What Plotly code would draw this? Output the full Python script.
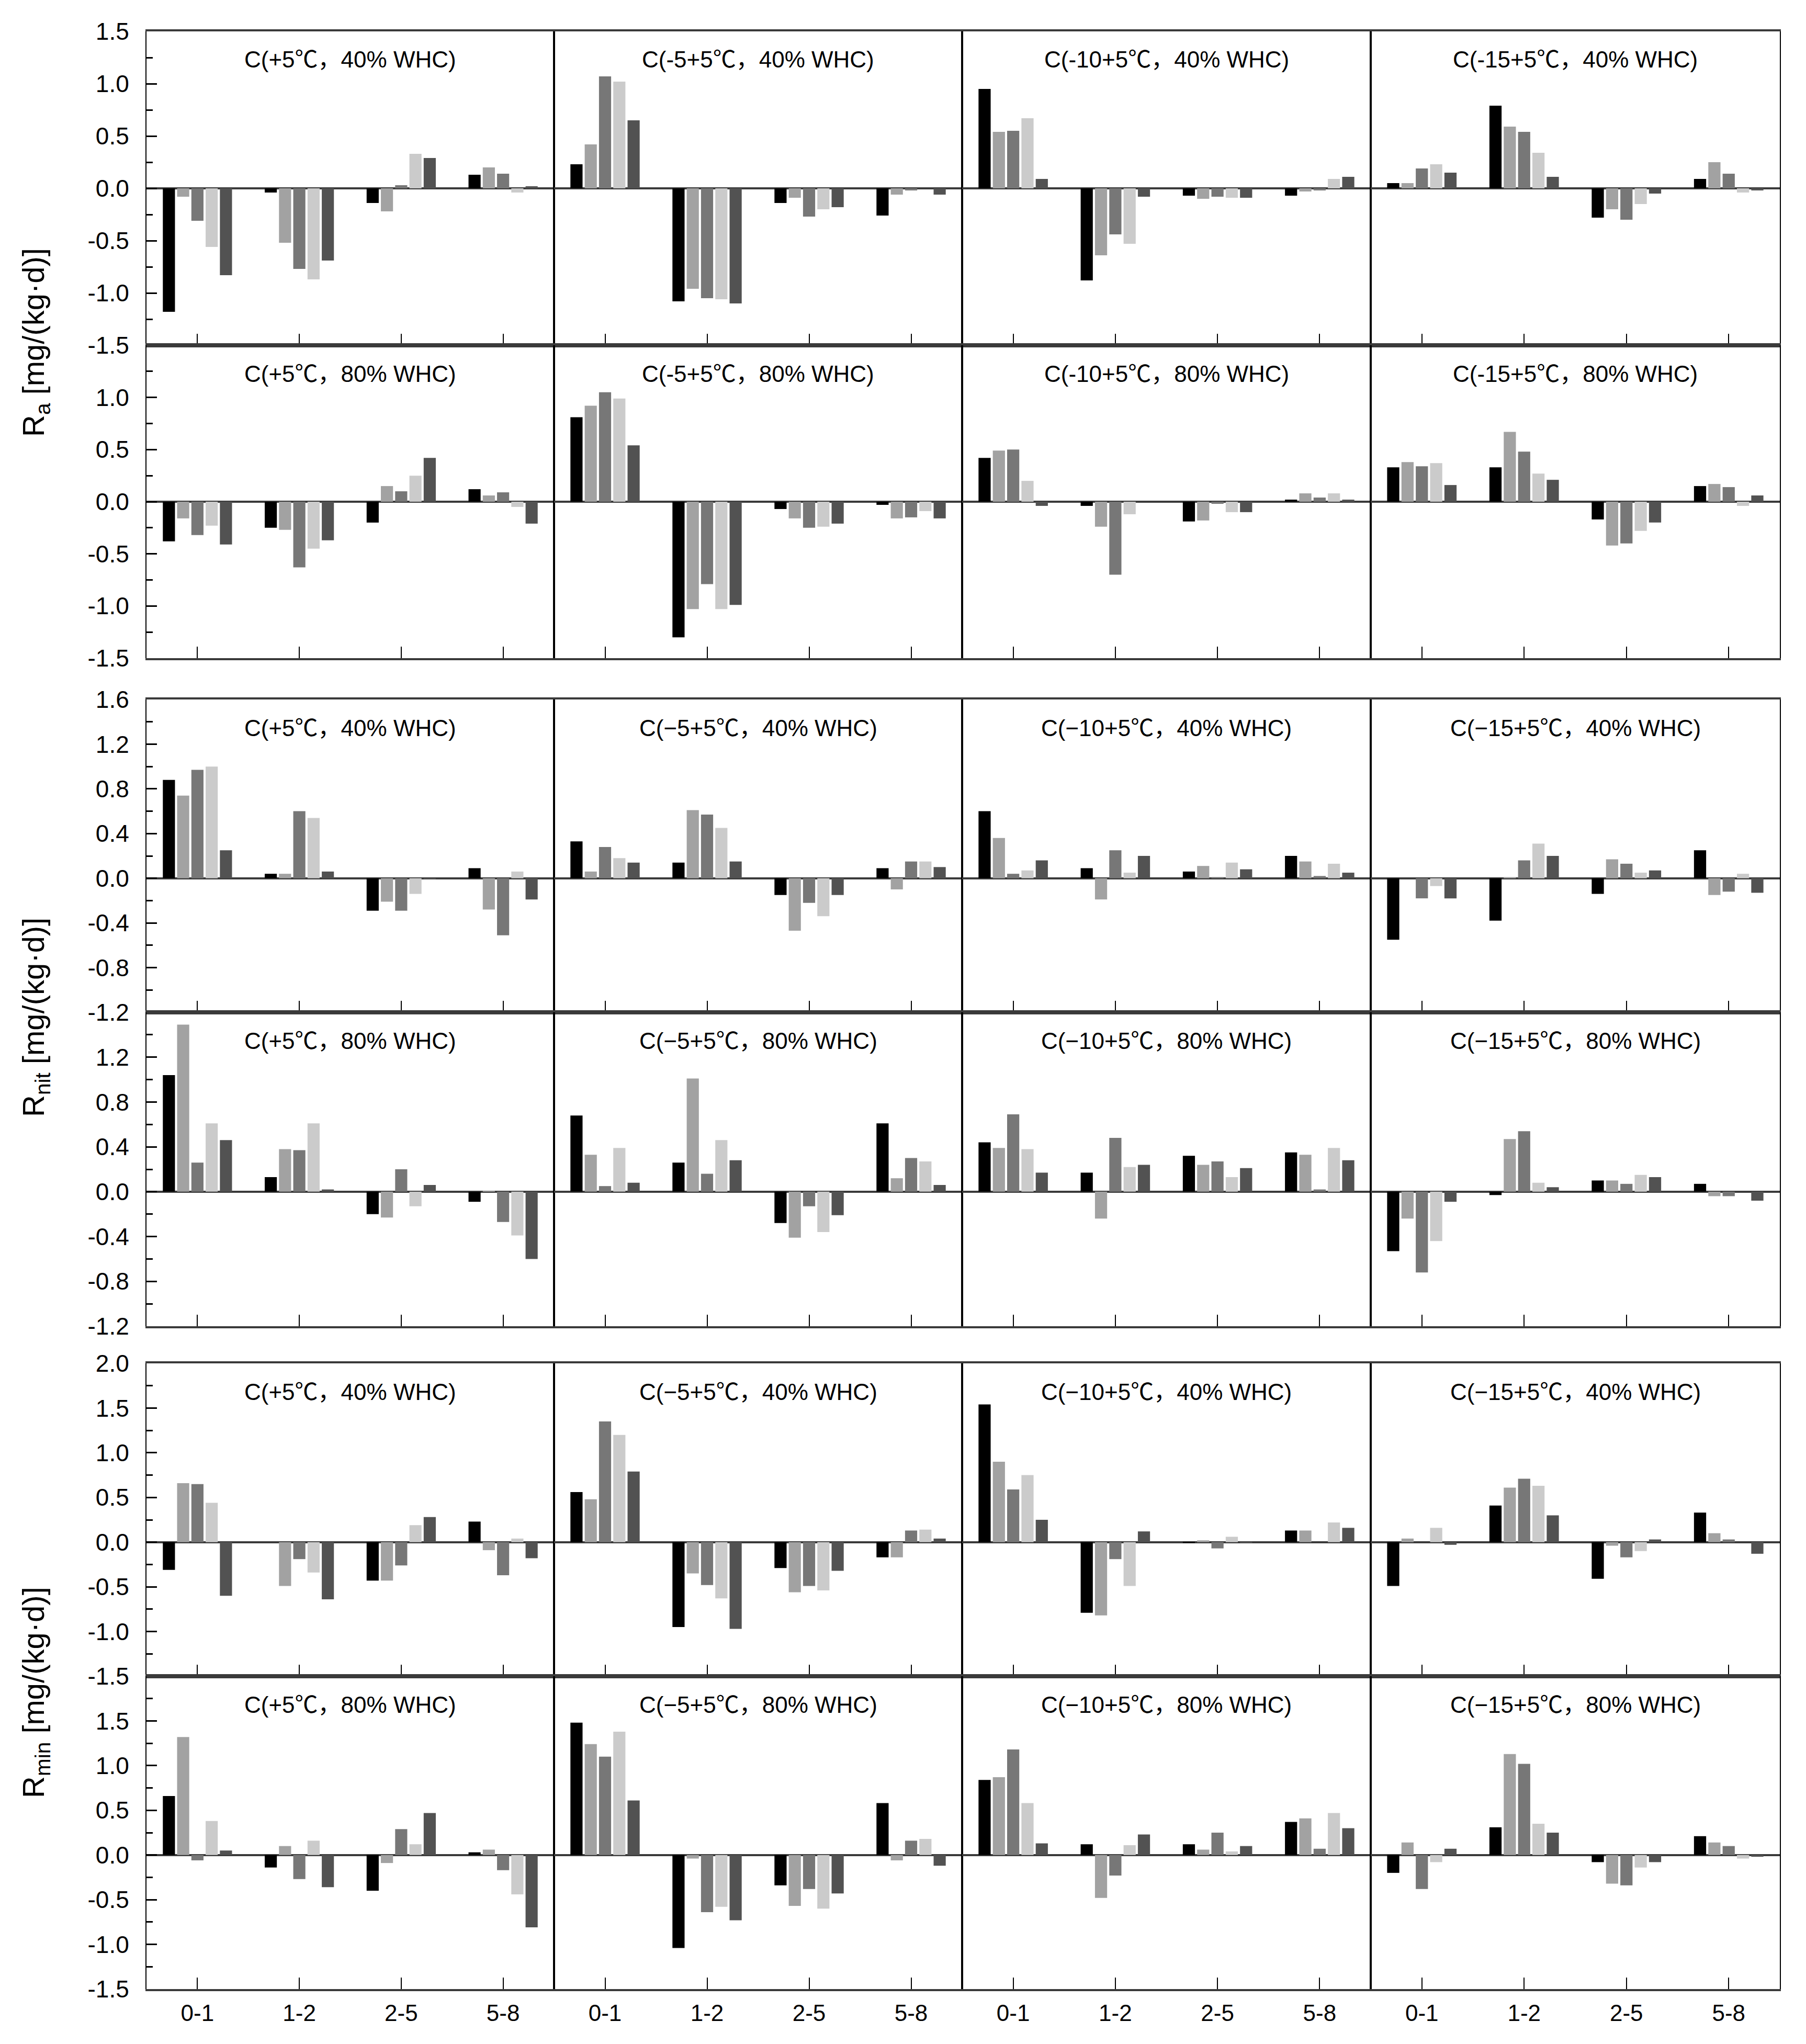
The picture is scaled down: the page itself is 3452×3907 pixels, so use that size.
import plotly.graph_objects as go

CATEGORIES = ["0-1", "1-2", "2-5", "5-8"]
SERIES_COLORS = ["#000000", "#a2a2a2", "#777777", "#cbcbcb", "#525252"]
TREATMENTS = ["+5", "-5+5", "-10+5", "-15+5"]

# Each panel: 5 series (bar shades), each with values for the 4 depth categories
RA_40_T5 = [[-1.18, -0.04, -0.14, 0.13], [-0.08, -0.52, -0.22, 0.20], [-0.31, -0.77, 0.03, 0.14], [-0.56, -0.87, 0.33, -0.04], [-0.83, -0.69, 0.29, 0.02]]
RA_40_T5m = [[0.23, -1.08, -0.14, -0.26], [0.42, -0.96, -0.09, -0.06], [1.07, -1.05, -0.27, -0.02], [1.02, -1.06, -0.20, 0.0], [0.65, -1.10, -0.18, -0.06]]
RA_40_T10 = [[0.95, -0.88, -0.07, -0.07], [0.54, -0.64, -0.10, -0.03], [0.55, -0.44, -0.08, -0.02], [0.67, -0.53, -0.09, 0.09], [0.09, -0.08, -0.09, 0.11]]
RA_40_T15 = [[0.05, 0.79, -0.28, 0.09], [0.05, 0.59, -0.20, 0.25], [0.19, 0.54, -0.30, 0.14], [0.23, 0.34, -0.15, -0.04], [0.15, 0.11, -0.05, -0.02]]

RA_80_T5 = [[-0.38, -0.25, -0.20, 0.12], [-0.16, -0.27, 0.15, 0.06], [-0.32, -0.63, 0.10, 0.09], [-0.23, -0.45, 0.25, -0.05], [-0.41, -0.37, 0.42, -0.21]]
RA_80_T5m = [[0.81, -1.30, -0.07, -0.03], [0.92, -1.03, -0.16, -0.16], [1.05, -0.79, -0.25, -0.15], [0.99, -1.03, -0.24, -0.09], [0.54, -0.99, -0.21, -0.16]]
RA_80_T10 = [[0.42, -0.04, -0.19, 0.02], [0.49, -0.24, -0.18, 0.08], [0.50, -0.70, -0.02, 0.04], [0.20, -0.12, -0.10, 0.08], [-0.04, 0.0, -0.10, 0.02]]
RA_80_T15 = [[0.33, 0.33, -0.17, 0.15], [0.38, 0.67, -0.42, 0.17], [0.34, 0.48, -0.40, 0.14], [0.37, 0.27, -0.28, -0.04], [0.16, 0.21, -0.20, 0.06]]

RNIT_40_T5 = [[0.88, 0.04, -0.29, 0.09], [0.74, 0.04, -0.21, -0.28], [0.97, 0.60, -0.29, -0.51], [1.00, 0.54, -0.14, 0.06], [0.25, 0.06, -0.01, -0.19]]
RNIT_40_T5m = [[0.33, 0.14, -0.15, 0.09], [0.06, 0.61, -0.47, -0.10], [0.28, 0.57, -0.22, 0.15], [0.18, 0.45, -0.34, 0.15], [0.14, 0.15, -0.15, 0.10]]
RNIT_40_T10 = [[0.60, 0.09, 0.06, 0.20], [0.36, -0.19, 0.11, 0.15], [0.04, 0.25, 0.01, 0.02], [0.07, 0.05, 0.14, 0.13], [0.16, 0.20, 0.08, 0.05]]
RNIT_40_T15 = [[-0.55, -0.38, -0.14, 0.25], [0.0, 0.01, 0.17, -0.15], [-0.18, 0.16, 0.13, -0.12], [-0.07, 0.31, 0.05, 0.04], [-0.18, 0.20, 0.07, -0.13]]

RNIT_80_T5 = [[1.04, 0.13, -0.20, -0.09], [1.49, 0.38, -0.23, 0.01], [0.26, 0.37, 0.20, -0.27], [0.61, 0.61, -0.13, -0.39], [0.46, 0.02, 0.06, -0.60]]
RNIT_80_T5m = [[0.68, 0.26, -0.28, 0.61], [0.33, 1.01, -0.41, 0.12], [0.05, 0.16, -0.13, 0.30], [0.39, 0.46, -0.36, 0.27], [0.08, 0.28, -0.21, 0.06]]
RNIT_80_T10 = [[0.44, 0.17, 0.32, 0.35], [0.39, -0.24, 0.24, 0.33], [0.69, 0.48, 0.27, 0.02], [0.38, 0.22, 0.13, 0.39], [0.17, 0.24, 0.21, 0.28]]
RNIT_80_T15 = [[-0.53, -0.03, 0.10, 0.07], [-0.24, 0.47, 0.10, -0.04], [-0.72, 0.54, 0.07, -0.04], [-0.44, 0.08, 0.15, 0.0], [-0.09, 0.04, 0.13, -0.08]]

RMIN_40_T5 = [[-0.31, 0.0, -0.43, 0.23], [0.66, -0.49, -0.43, -0.09], [0.65, -0.19, -0.26, -0.37], [0.44, -0.34, 0.19, 0.04], [-0.60, -0.64, 0.28, -0.18]]
RMIN_40_T5m = [[0.56, -0.95, -0.29, -0.17], [0.48, -0.35, -0.56, -0.17], [1.35, -0.48, -0.49, 0.13], [1.20, -0.63, -0.54, 0.14], [0.79, -0.97, -0.32, 0.04]]
RMIN_40_T10 = [[1.54, -0.79, -0.01, 0.13], [0.90, -0.82, 0.02, 0.13], [0.59, -0.19, -0.07, 0.0], [0.75, -0.49, 0.06, 0.22], [0.25, 0.12, -0.01, 0.16]]
RMIN_40_T15 = [[-0.49, 0.41, -0.41, 0.33], [0.04, 0.61, -0.04, 0.10], [0.0, 0.71, -0.17, 0.03], [0.16, 0.63, -0.10, 0.0], [-0.03, 0.30, 0.03, -0.13]]

RMIN_80_T5 = [[0.66, -0.14, -0.40, 0.03], [1.32, 0.10, -0.09, 0.06], [-0.06, -0.27, 0.29, -0.17], [0.38, 0.16, 0.12, -0.44], [0.05, -0.36, 0.47, -0.81]]
RMIN_80_T5m = [[1.48, -1.04, -0.34, 0.58], [1.24, -0.04, -0.57, -0.06], [1.10, -0.64, -0.38, 0.16], [1.38, -0.58, -0.60, 0.18], [0.61, -0.73, -0.43, -0.12]]
RMIN_80_T10 = [[0.84, 0.12, 0.12, 0.37], [0.87, -0.48, 0.06, 0.41], [1.18, -0.23, 0.25, 0.07], [0.58, 0.11, 0.04, 0.47], [0.13, 0.23, 0.10, 0.30]]
RMIN_80_T15 = [[-0.20, 0.31, -0.08, 0.21], [0.14, 1.13, -0.32, 0.14], [-0.38, 1.02, -0.34, 0.10], [-0.08, 0.35, -0.14, -0.04], [0.07, 0.25, -0.08, -0.02]]

ROWS_DATA = [
    [RA_40_T5, RA_40_T5m, RA_40_T10, RA_40_T15],
    [RA_80_T5, RA_80_T5m, RA_80_T10, RA_80_T15],
    [RNIT_40_T5, RNIT_40_T5m, RNIT_40_T10, RNIT_40_T15],
    [RNIT_80_T5, RNIT_80_T5m, RNIT_80_T10, RNIT_80_T15],
    [RMIN_40_T5, RMIN_40_T5m, RMIN_40_T10, RMIN_40_T15],
    [RMIN_80_T5, RMIN_80_T5m, RMIN_80_T10, RMIN_80_T15],
]
ROW_WHC = ["40% WHC", "80% WHC", "40% WHC", "80% WHC", "40% WHC", "80% WHC"]
ROW_RANGE = [(-1.5, 1.5), (-1.5, 1.5), (-1.2, 1.6), (-1.2, 1.6), (-1.5, 2.0), (-1.5, 2.0)]
ROW_STEP = [0.5, 0.5, 0.4, 0.4, 0.5, 0.5]
Y_TITLES = ["R<sub>a</sub> [mg/(kg·d)]", "R<sub>nit</sub> [mg/(kg·d)]", "R<sub>min</sub> [mg/(kg·d)]"]

W, H = 3452, 3907
COL_PX = [(280, 1059), (1059, 1839), (1839, 2620), (2620, 3402)]
ROW_PX = [(60, 660), (660, 1258), (1337, 1935), (1935, 2535), (2606, 3204), (3204, 3802)]
FONT = "Liberation Sans, Arial, Noto Sans CJK SC"

fig = go.Figure()
layout = {}
annotations = []
n = 0
for r in range(6):
    lo, hi = ROW_RANGE[r]
    step = ROW_STEP[r]
    k0 = round(lo / step)
    k1 = round(hi / step)
    major = [round(k * step, 3) for k in range(k0, k1 + 1)]
    minor = [round((k + 0.5) * step, 3) for k in range(k0, k1)]
    if r % 2 == 1:
        major = major[:-1]
    ttext = [f"{v:.1f}" for v in major]
    dash = "-" if r < 2 else "\u2212"
    for c in range(4):
        n += 1
        data = ROWS_DATA[r][c]
        for s in range(5):
            fig.add_trace(go.Bar(
                x=CATEGORIES, y=data[s], xaxis=f"x{n}", yaxis=f"y{n}",
                marker=dict(color=SERIES_COLORS[s], line=dict(width=0)),
                showlegend=False,
            ))
        x0, x1 = COL_PX[c]
        t, b = ROW_PX[r]
        layout[f"xaxis{n}"] = dict(
            domain=[x0 / W, x1 / W], anchor=f"y{n}", type="category",
            range=[-0.5, 3.5], ticks="inside", ticklen=22, tickwidth=2,
            tickcolor="#000", showticklabels=(r == 5), showline=True,
            mirror=True, linewidth=4, linecolor="#3a3a3a", showgrid=False,
            zeroline=False, automargin=False,
            tickfont=dict(family=FONT, size=44, color="#000"),
            ticklabelstandoff=4,
        )
        ydict = dict(
            domain=[1 - b / H, 1 - t / H], anchor=f"x{n}", range=[lo, hi],
            showgrid=False, zeroline=True, zerolinecolor="#3a3a3a",
            zerolinewidth=4, showline=True, mirror=True, linewidth=2,
            linecolor="#000", layer="above traces", automargin=False,
        )
        if c == 0:
            ydict.update(
                tickmode="array", tickvals=major, ticktext=ttext,
                ticks="inside", ticklen=20, tickwidth=3, tickcolor="#000",
                showticklabels=True, ticklabelstandoff=22,
                tickfont=dict(family=FONT, size=46, color="#000"),
                minor=dict(tickmode="array", tickvals=minor, ticks="inside",
                           ticklen=12, tickwidth=3, tickcolor="#000"),
            )
        else:
            ydict.update(ticks="", showticklabels=False)
        layout[f"yaxis{n}"] = ydict
        if c == 0:
            label = f"C(+5\u2103\uff0c{ROW_WHC[r]})"
        else:
            label = f"C({dash}{TREATMENTS[c][1:]}\u2103\uff0c{ROW_WHC[r]})"
        annotations.append(dict(
            x=(x0 + x1) / 2 / W, y=1 - (t + 54) / H, xref="paper", yref="paper",
            text=label, showarrow=False, xanchor="center", yanchor="middle",
            font=dict(family=FONT, size=44, color="#000"),
        ))

for i, yc in enumerate([655, 1945, 3235]):
    annotations.append(dict(
        x=68 / W, y=1 - yc / H, xref="paper", yref="paper",
        text=Y_TITLES[i], showarrow=False, textangle=-90,
        xanchor="center", yanchor="middle",
        font=dict(family=FONT, size=58, color="#000"),
    ))

fig.update_layout(
    template="none",
    width=W, height=H, autosize=False,
    margin=dict(l=0, r=0, t=0, b=0, pad=0, autoexpand=False),
    paper_bgcolor="white", plot_bgcolor="white",
    showlegend=False,
    barmode="group", bargap=0.3, bargroupgap=0.15,
    annotations=annotations, **layout,
)
fig.write_html("out.html", config={"displayModeBar": False},
               post_script="document.body.style.margin='0px';")
